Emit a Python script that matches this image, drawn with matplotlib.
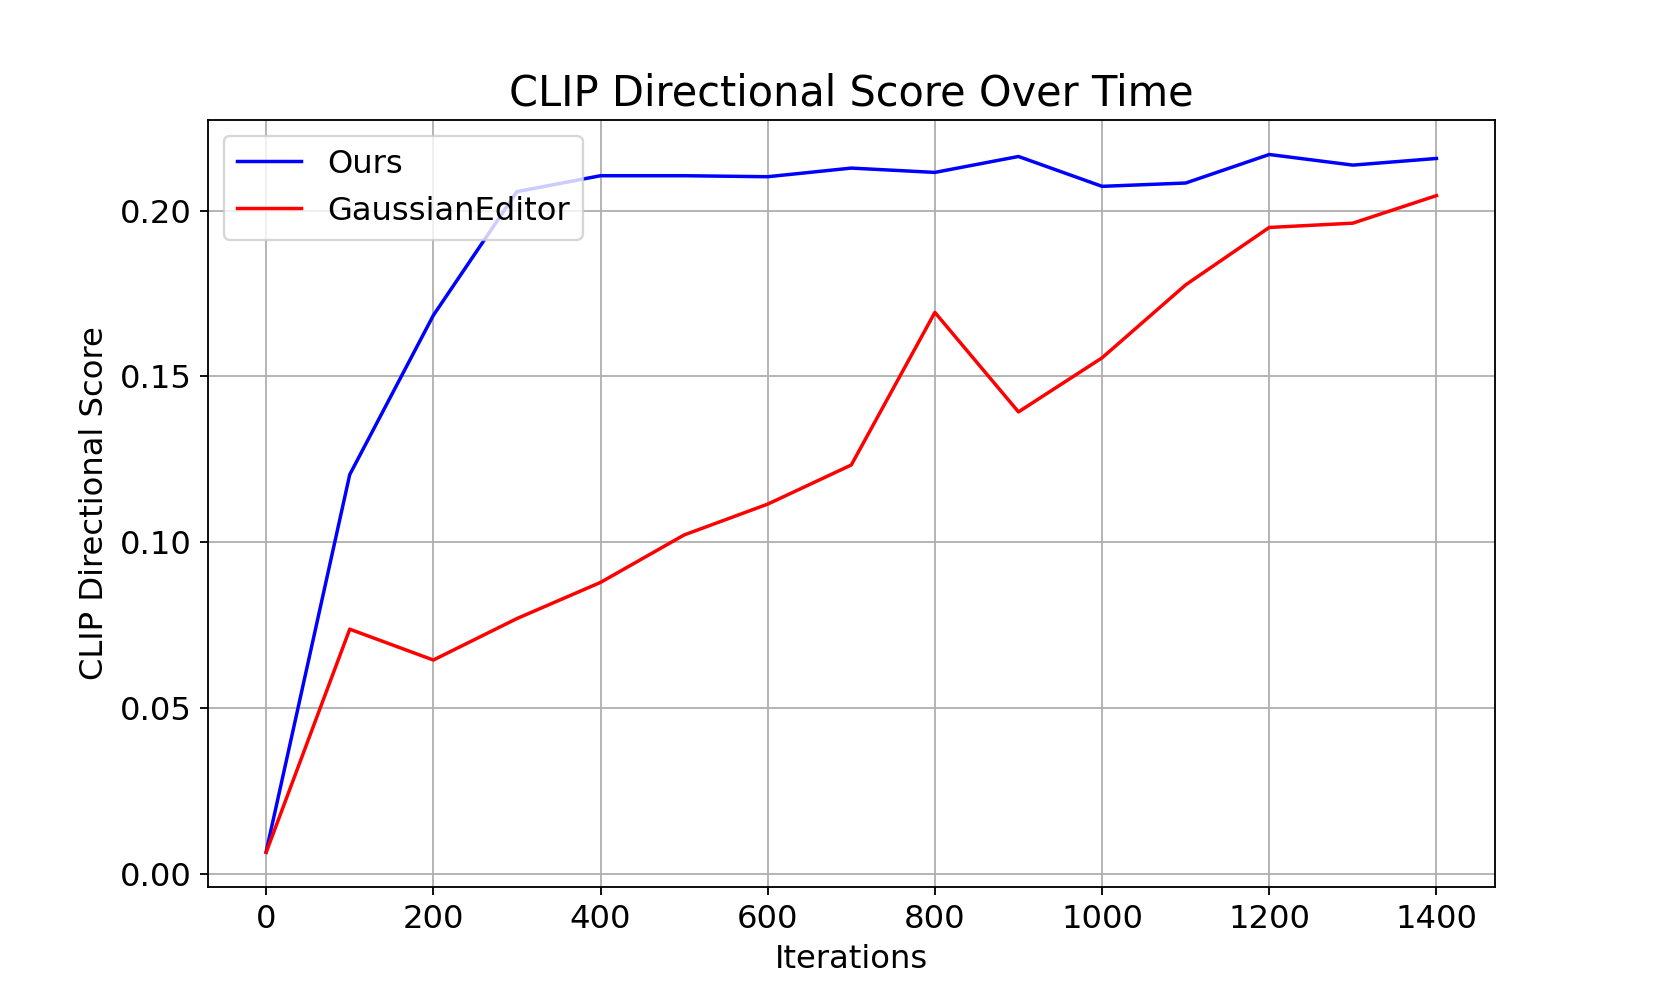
import matplotlib
matplotlib.use('Agg')
import matplotlib.pyplot as plt

iterations = [0, 100, 200, 300, 400, 500, 600, 700, 800, 900, 1000, 1100, 1200, 1300, 1400]
ours = [0.0067, 0.1204, 0.1684, 0.2057, 0.2105, 0.2105, 0.2102, 0.2128, 0.2115,
        0.2163, 0.2073, 0.2083, 0.2169, 0.2137, 0.2157]
gaussian_editor = [0.0065, 0.0738, 0.0645, 0.0770, 0.0879, 0.1022, 0.1115, 0.1233, 0.1693,
                   0.1393, 0.1556, 0.1776, 0.1949, 0.1962, 0.2045]

plt.rcParams['font.size'] = 14

# small pad so the pixel size doesn't truncate to 1660
fig, ax = plt.subplots(figsize=(1661.05 / 166, 997.05 / 166), dpi=166)

ax.plot(iterations, ours, color='blue', label='Ours')
ax.plot(iterations, gaussian_editor, color='red', label='GaussianEditor')

ax.set_title('CLIP Directional Score Over Time', fontsize=18)
ax.set_xlabel('Iterations')
ax.set_ylabel('CLIP Directional Score')
ax.grid(True)
ax.legend(loc='upper left')

plt.savefig('out.png', dpi=166)
